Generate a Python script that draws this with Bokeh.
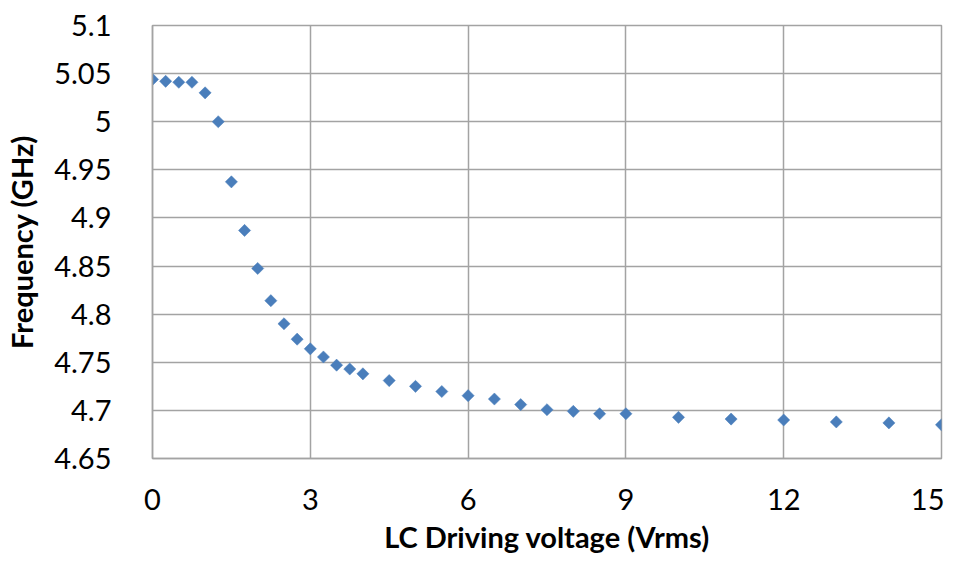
from bokeh.plotting import figure
from bokeh.models import FixedTicker, Range1d
from bokeh.embed import file_html
from bokeh.resources import INLINE
import math

# ---- data ----
voltage = [0, 0.25, 0.5, 0.75, 1.0, 1.25, 1.5, 1.75, 2.0, 2.25, 2.5, 2.75, 3.0,
           3.25, 3.5, 3.75, 4.0, 4.5, 5.0, 5.5, 6.0, 6.5, 7.0, 7.5, 8.0, 8.5,
           9.0, 10, 11, 12, 13, 14, 15]
frequency = [5.044, 5.042, 5.041, 5.041, 5.030, 5.000, 4.9375, 4.887, 4.8475,
             4.814, 4.790, 4.774, 4.764, 4.7555, 4.747, 4.743, 4.738, 4.731,
             4.725, 4.7196, 4.7153, 4.7118, 4.706, 4.7007, 4.699, 4.6965,
             4.6965, 4.6928, 4.691, 4.690, 4.688, 4.687, 4.685]

x_ticks = [0, 3, 6, 9, 12, 15]
x_tick_labels = ["0", "3", "6", "9", "12", "15"]
y_ticks = [4.65, 4.7, 4.75, 4.8, 4.85, 4.9, 4.95, 5.0, 5.05, 5.1]
y_tick_labels = ["4.65", "4.7", "4.75", "4.8", "4.85", "4.9", "4.95", "5", "5.05", "5.1"]

FONT = "Lato"
GRID = "#a3a3a3"

p = figure(width=944, height=557, output_backend="svg", toolbar_location=None,
           x_range=Range1d(0, 15), y_range=Range1d(4.65, 5.1),
           min_border_left=152, min_border_right=3, min_border_top=25,
           min_border_bottom=99)

p.scatter(voltage, frequency, marker="square", size=8.6, angle=math.pi / 4,
          fill_color="#4a7ebb", line_color="#4a7ebb", line_width=0.5)

p.outline_line_color = GRID
p.outline_line_width = 1.5

p.xaxis.ticker = FixedTicker(ticks=x_ticks)
p.yaxis.ticker = FixedTicker(ticks=y_ticks)
p.xaxis.major_label_overrides = {t: l for t, l in zip(x_ticks, x_tick_labels)}
p.yaxis.major_label_overrides = {t: l for t, l in zip(y_ticks, y_tick_labels)}

for ax in (p.xaxis, p.yaxis):
    ax.axis_line_color = GRID
    ax.axis_line_width = 1.5
    ax.major_tick_line_color = None
    ax.minor_tick_line_color = None
    ax.major_label_text_font = FONT
    ax.major_label_text_font_size = "29px"
    ax.major_label_text_color = "#000000"
    ax.axis_label_text_font = FONT
    ax.axis_label_text_font_style = "bold"
    ax.axis_label_text_font_size = "29px"
    ax.axis_label_text_color = "#000000"

p.xaxis.axis_label = "LC Driving voltage (Vrms)"
p.yaxis.axis_label = "Frequency (GHz)"
p.xaxis.major_label_standoff = 24
p.yaxis.major_label_standoff = 35
p.xaxis.axis_label_standoff = 6
p.yaxis.axis_label_standoff = 12

p.grid.grid_line_color = GRID
p.grid.grid_line_width = 1.5

p.background_fill_color = "white"
p.border_fill_color = "white"

open("out.html", "w").write(file_html(p, INLINE))
